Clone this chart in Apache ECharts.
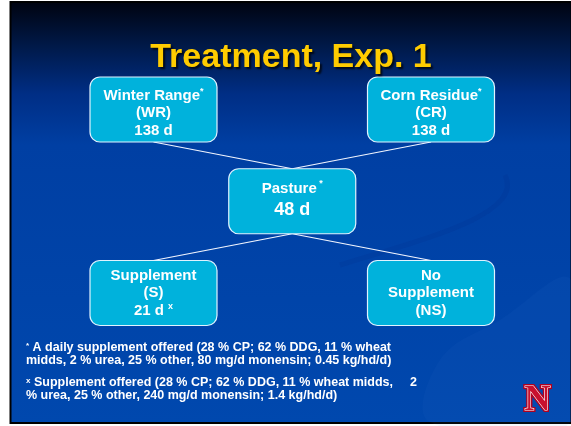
<!DOCTYPE html>
<html>
<head>
<meta charset="utf-8">
<script src="https://cdn.jsdelivr.net/npm/echarts@6/dist/echarts.min.js"></script>
<style>
    html, body { margin: 0; padding: 0; background: #fff; }
    #main { width: 571px; height: 426px; }
</style>
</head>
<body>
<div id="main"></div>
<script>
    // boxes of the treatment scheme
    const nodeNames = ['Winter Range', 'Corn Residue', 'Pasture', 'Supplement', 'No\nSupplement'];
    const nodeAbbr = ['WR', 'CR', '', 'S', 'NS'];
    const nodeDays = [138, 138, 48, 21, null];
    const nameMark = ['*', '*', ' *', '', ''];
    const daysMark = ['', '', '', 'x', ''];
    const nodeCol = [0, 2, 1, 0, 2];
    const nodeRow = [0, 0, 1, 2, 2];
    // from -> to
    const edges = [[0, 2], [1, 2], [2, 3], [2, 4]];

    const titleText = 'Treatment, Exp. 1';
    const note1 = ['A daily supplement offered (28 % CP; 62 % DDG, 11 % wheat',
                   'midds, 2 % urea, 25 % other, 80 mg/d monensin; 0.45 kg/hd/d)'];
    const note2 = ['Supplement offered (28 % CP; 62 % DDG, 11 % wheat midds,',
                   '% urea, 25 % other, 240 mg/d monensin; 1.4 kg/hd/d)'];
    const note2Tail = '2';

    const font = 'Liberation Sans, Arial, sans-serif';
    const boxW = 127, boxH = 65;
    const rowShift = [3.5, -1.5, 0];

    function nodeText(i) {
        let s = '';
        nodeNames[i].split('\n').forEach(function (p) { s += '{t|' + p + '}\n'; });
        s = s.slice(0, -1);
        if (nameMark[i]) s += '{sup|' + nameMark[i] + '}';
        if (nodeAbbr[i]) s += '\n{t|(' + nodeAbbr[i] + ')}';
        if (nodeDays[i] != null) {
            s += '\n{' + (nodeAbbr[i] ? 't' : 'big') + '|' + nodeDays[i] + ' d' + (daysMark[i] ? ' ' : '') + '}';
            if (daysMark[i]) s += '{sup|' + daysMark[i] + '}';
        }
        return s;
    }

    function renderNode(params, api) {
        const i = api.value(2);
        const c = api.coord([api.value(0), api.value(1)]);
        const big = !nodeAbbr[i];
        return {
            type: 'group',
            children: [{
                type: 'rect',
                shape: {x: c[0] - boxW / 2, y: c[1] - boxH / 2, width: boxW, height: boxH, r: 10},
                style: {fill: '#00b2dc', stroke: '#dff3ff', lineWidth: 1.2}
            }, {
                type: 'text',
                x: c[0],
                y: c[1] + rowShift[nodeRow[i]],
                style: {
                    text: nodeText(i),
                    align: 'center',
                    verticalAlign: 'middle',
                    fill: '#fff',
                    rich: {
                        t: {fontSize: 15, fontWeight: 'bold', fontFamily: font, fill: '#fff', lineHeight: big ? 20 : 17.5},
                        big: {fontSize: 18, fontWeight: 'bold', fontFamily: font, fill: '#fff', lineHeight: 22},
                        sup: {fontSize: 9, fontWeight: 'bold', fontFamily: font, fill: '#fff', lineHeight: 9, verticalAlign: 'top'}
                    }
                }
            }]
        };
    }

    function renderEdge(params, api) {
        const a = api.value(0), b = api.value(1);
        const p1 = api.coord([nodeCol[a], nodeRow[a]]);
        const p2 = api.coord([nodeCol[b], nodeRow[b]]);
        return {
            type: 'line',
            shape: {x1: p1[0], y1: p1[1] + boxH / 2, x2: p2[0], y2: p2[1] - boxH / 2},
            style: {stroke: '#f2f6ff', lineWidth: 1.2}
        };
    }

    function noteText(mark, lines) {
        return '{sup|' + mark + '}{n| ' + lines[0] + '}\n{n|' + lines[1] + '}';
    }
    const noteRich = {
        n: {fontSize: 12.5, fontWeight: 'bold', fontFamily: font, fill: '#fff', lineHeight: 12.5},
        sup: {fontSize: 8, fontWeight: 'bold', fontFamily: font, fill: '#fff', lineHeight: 8, verticalAlign: 'top'}
    };

    let myChart = echarts.init(document.getElementById('main'));
    myChart.setOption({
        backgroundColor: '#fff',
        animation: false,
        grid: {left: 153.5, right: 140, top: 109.5, bottom: 133},
        xAxis: {type: 'value', min: 0, max: 2, show: false},
        yAxis: {type: 'value', min: 0, max: 2, inverse: true, show: false},
        graphic: [{
            type: 'rect', z: -10,
            shape: {x: 10.5, y: 2, width: 561, height: 421},
            style: {
                fill: new echarts.graphic.LinearGradient(0, 0, 0, 1, [
                    {offset: 0, color: '#00030f'},
                    {offset: 0.1, color: '#001845'},
                    {offset: 0.22, color: '#002e85'},
                    {offset: 0.34, color: '#003fa3'},
                    {offset: 1, color: '#0048ae'}
                ]),
                stroke: '#000', lineWidth: 2
            }
        }, {
            type: 'polygon', z: -9,
            shape: {points: [[430, 422], [440, 360], [500, 320], [571, 280], [571, 422]], smooth: 0.4},
            style: {fill: 'rgba(60,130,220,0.06)'}
        }, {
            type: 'bezierCurve', z: -9,
            shape: {x1: 340, y1: 265, cpx1: 420, cpy1: 240, cpx2: 525, cpy2: 215, x2: 505, y2: 175},
            style: {fill: null, stroke: 'rgba(0,30,120,0.1)', lineWidth: 5}
        }, {
            type: 'text', z: 10,
            x: 291, y: 58,
            style: {
                text: titleText,
                align: 'center', verticalAlign: 'middle',
                fontSize: 34, fontWeight: 'bold', fontFamily: font,
                fill: '#ffcc00',
                textShadowColor: 'rgba(0,0,0,0.75)', textShadowBlur: 2,
                textShadowOffsetX: 2, textShadowOffsetY: 2
            }
        }, {
            type: 'text', z: 10,
            x: 26, y: 341.5,
            style: {text: noteText('*', note1), verticalAlign: 'top', rich: noteRich}
        }, {
            type: 'text', z: 10,
            x: 26, y: 376.5,
            style: {text: noteText('x', note2), verticalAlign: 'top', rich: noteRich}
        }, {
            type: 'text', z: 10,
            x: 410, y: 376.5,
            style: {text: '{n|' + note2Tail + '}', verticalAlign: 'top', rich: noteRich}
        }, {
            type: 'text', z: 10,
            x: 537.5, y: 401,
            style: {
                text: 'N', align: 'center', verticalAlign: 'middle',
                fontSize: 36, fontWeight: 'bold', fontFamily: 'Liberation Serif, serif',
                fill: '#c8102e', stroke: '#b00020', lineWidth: 4,
                shadowColor: 'rgba(0,0,0,0.6)', shadowOffsetX: 2, shadowOffsetY: 2, shadowBlur: 2
            }
        }, {
            type: 'text', z: 11,
            x: 537.5, y: 401,
            style: {
                text: 'N', align: 'center', verticalAlign: 'middle',
                fontSize: 36, fontWeight: 'bold', fontFamily: 'Liberation Serif, serif',
                fill: '#c8102e', stroke: '#ffffff', lineWidth: 1.2
            }
        }],
        series: [{
            type: 'custom',
            coordinateSystem: 'cartesian2d',
            renderItem: renderEdge,
            data: edges,
            z: 2
        }, {
            type: 'custom',
            coordinateSystem: 'cartesian2d',
            renderItem: renderNode,
            data: nodeCol.map(function (c, i) { return [c, nodeRow[i], i]; }),
            z: 3
        }]
    });
</script>
</body>
</html>
